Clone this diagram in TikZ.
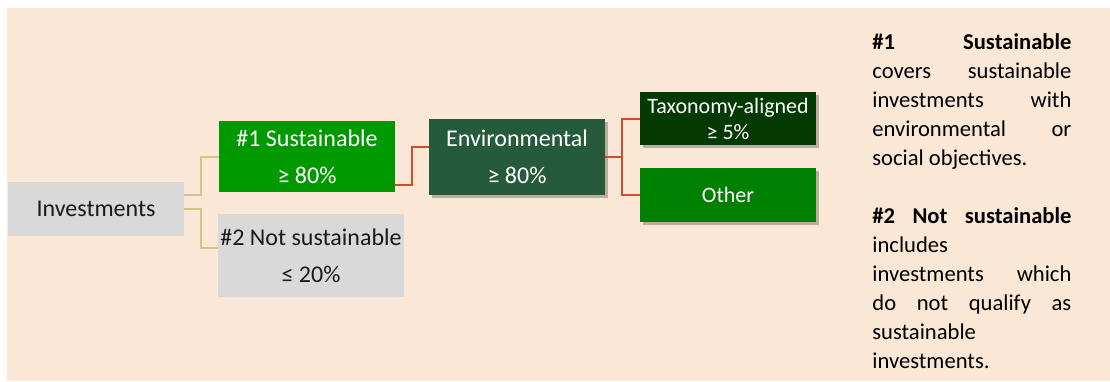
\documentclass[tikz,border=0pt]{standalone}
\usepackage{fontspec}
\setmainfont{Carlito}
\usetikzlibrary{calc,shadows}

\definecolor{peach}{HTML}{FAE7D6}
\definecolor{boxgrey}{HTML}{D9D9D9}
\definecolor{susgreen}{HTML}{009A00}
\definecolor{envgreen}{HTML}{265A3C}
\definecolor{taxgreen}{HTML}{023A02}
\definecolor{othgreen}{HTML}{008000}
\definecolor{linktan}{HTML}{D2C48A}
\definecolor{linkred}{HTML}{CC4E2E}

\begin{document}
\begin{tikzpicture}[x=0.5pt, y=-0.5pt,
    box/.style={rectangle, minimum width=88pt, text centered, align=center, inner sep=0pt, font=\fontsize{12}{14.5}\selectfont},
    greybox/.style={box, fill=boxgrey, text=black!90},
    greenbox/.style={box, text=white},
    shade/.style={drop shadow={shadow xshift=1.5pt, shadow yshift=-1.5pt, opacity=0.25, fill=black}},
    link/.style={line width=1pt, draw=linktan},
    redlink/.style={line width=1pt, draw=linkred},
    note/.style={text width=99.5pt, align=justify, inner sep=0pt, font=\fontsize{11.3}{14.5}\selectfont}
]

% background
\path[use as bounding box] (0,0) rectangle (1110,381);
\fill[peach] (7,8) rectangle (1110,381);

% Investments split
\node[greybox, minimum height=27pt] (invest) at (96,209) {Investments};
\node[greenbox, fill=susgreen, minimum height=35.5pt] (sust) at (307,156.5) {\#1 Sustainable\\[4pt] ≥ 80\%};
\node[greybox, minimum width=93pt, minimum height=41.5pt] (notsust) at (311,255.5) {\#2 Not sustainable\\[4pt] ≤ 20\%};

% Sustainable split
\node[greenbox, shade, fill=envgreen, minimum height=38pt] (env) at (517,157) {Environmental\\[4pt] ≥ 80\%};
\node[greenbox, shade, fill=taxgreen, minimum height=26.5pt, font=\fontsize{11}{13}\selectfont] (taxo) at (728,118.5) {Taxonomy-aligned\\ ≥ 5\%};
\node[greenbox, shade, fill=othgreen, minimum height=27pt, font=\fontsize{11}{13}\selectfont] (other) at (728,195) {Other};

% connectors
\draw[link] ($(invest.east)+(0,-14)$) -- ++(17,0) |- (sust.west);
\draw[link] (invest.east) -- ++(17,0) |- ($(notsust.west)+(0,-8)$);
\draw[redlink] ($(sust.east)+(0,28.5)$) -- ++(17,0) |- ($(env.west)+(0,-10)$);
\draw[redlink] (env.east) -- ++(17,0) |- (taxo.west);
\draw[redlink] (env.east) -- ++(17,0) |- (other.west);

% explanation
\node[note, anchor=north west] (note) at (872,33) {\textbf{\#1}\hfill\textbf{Sustainable}\\
covers\hfill sustainable\\
investments\hfill with\\
environmental\hfill or\\
social objectives.\\[14.5pt]
\textbf{\#2}\hfill\textbf{Not}\hfill\textbf{sustainable}\\
includes\\
investments\hfill which\\
do\hfill not\hfill qualify\hfill as\\
sustainable\\
investments.};

\end{tikzpicture}
\end{document}
